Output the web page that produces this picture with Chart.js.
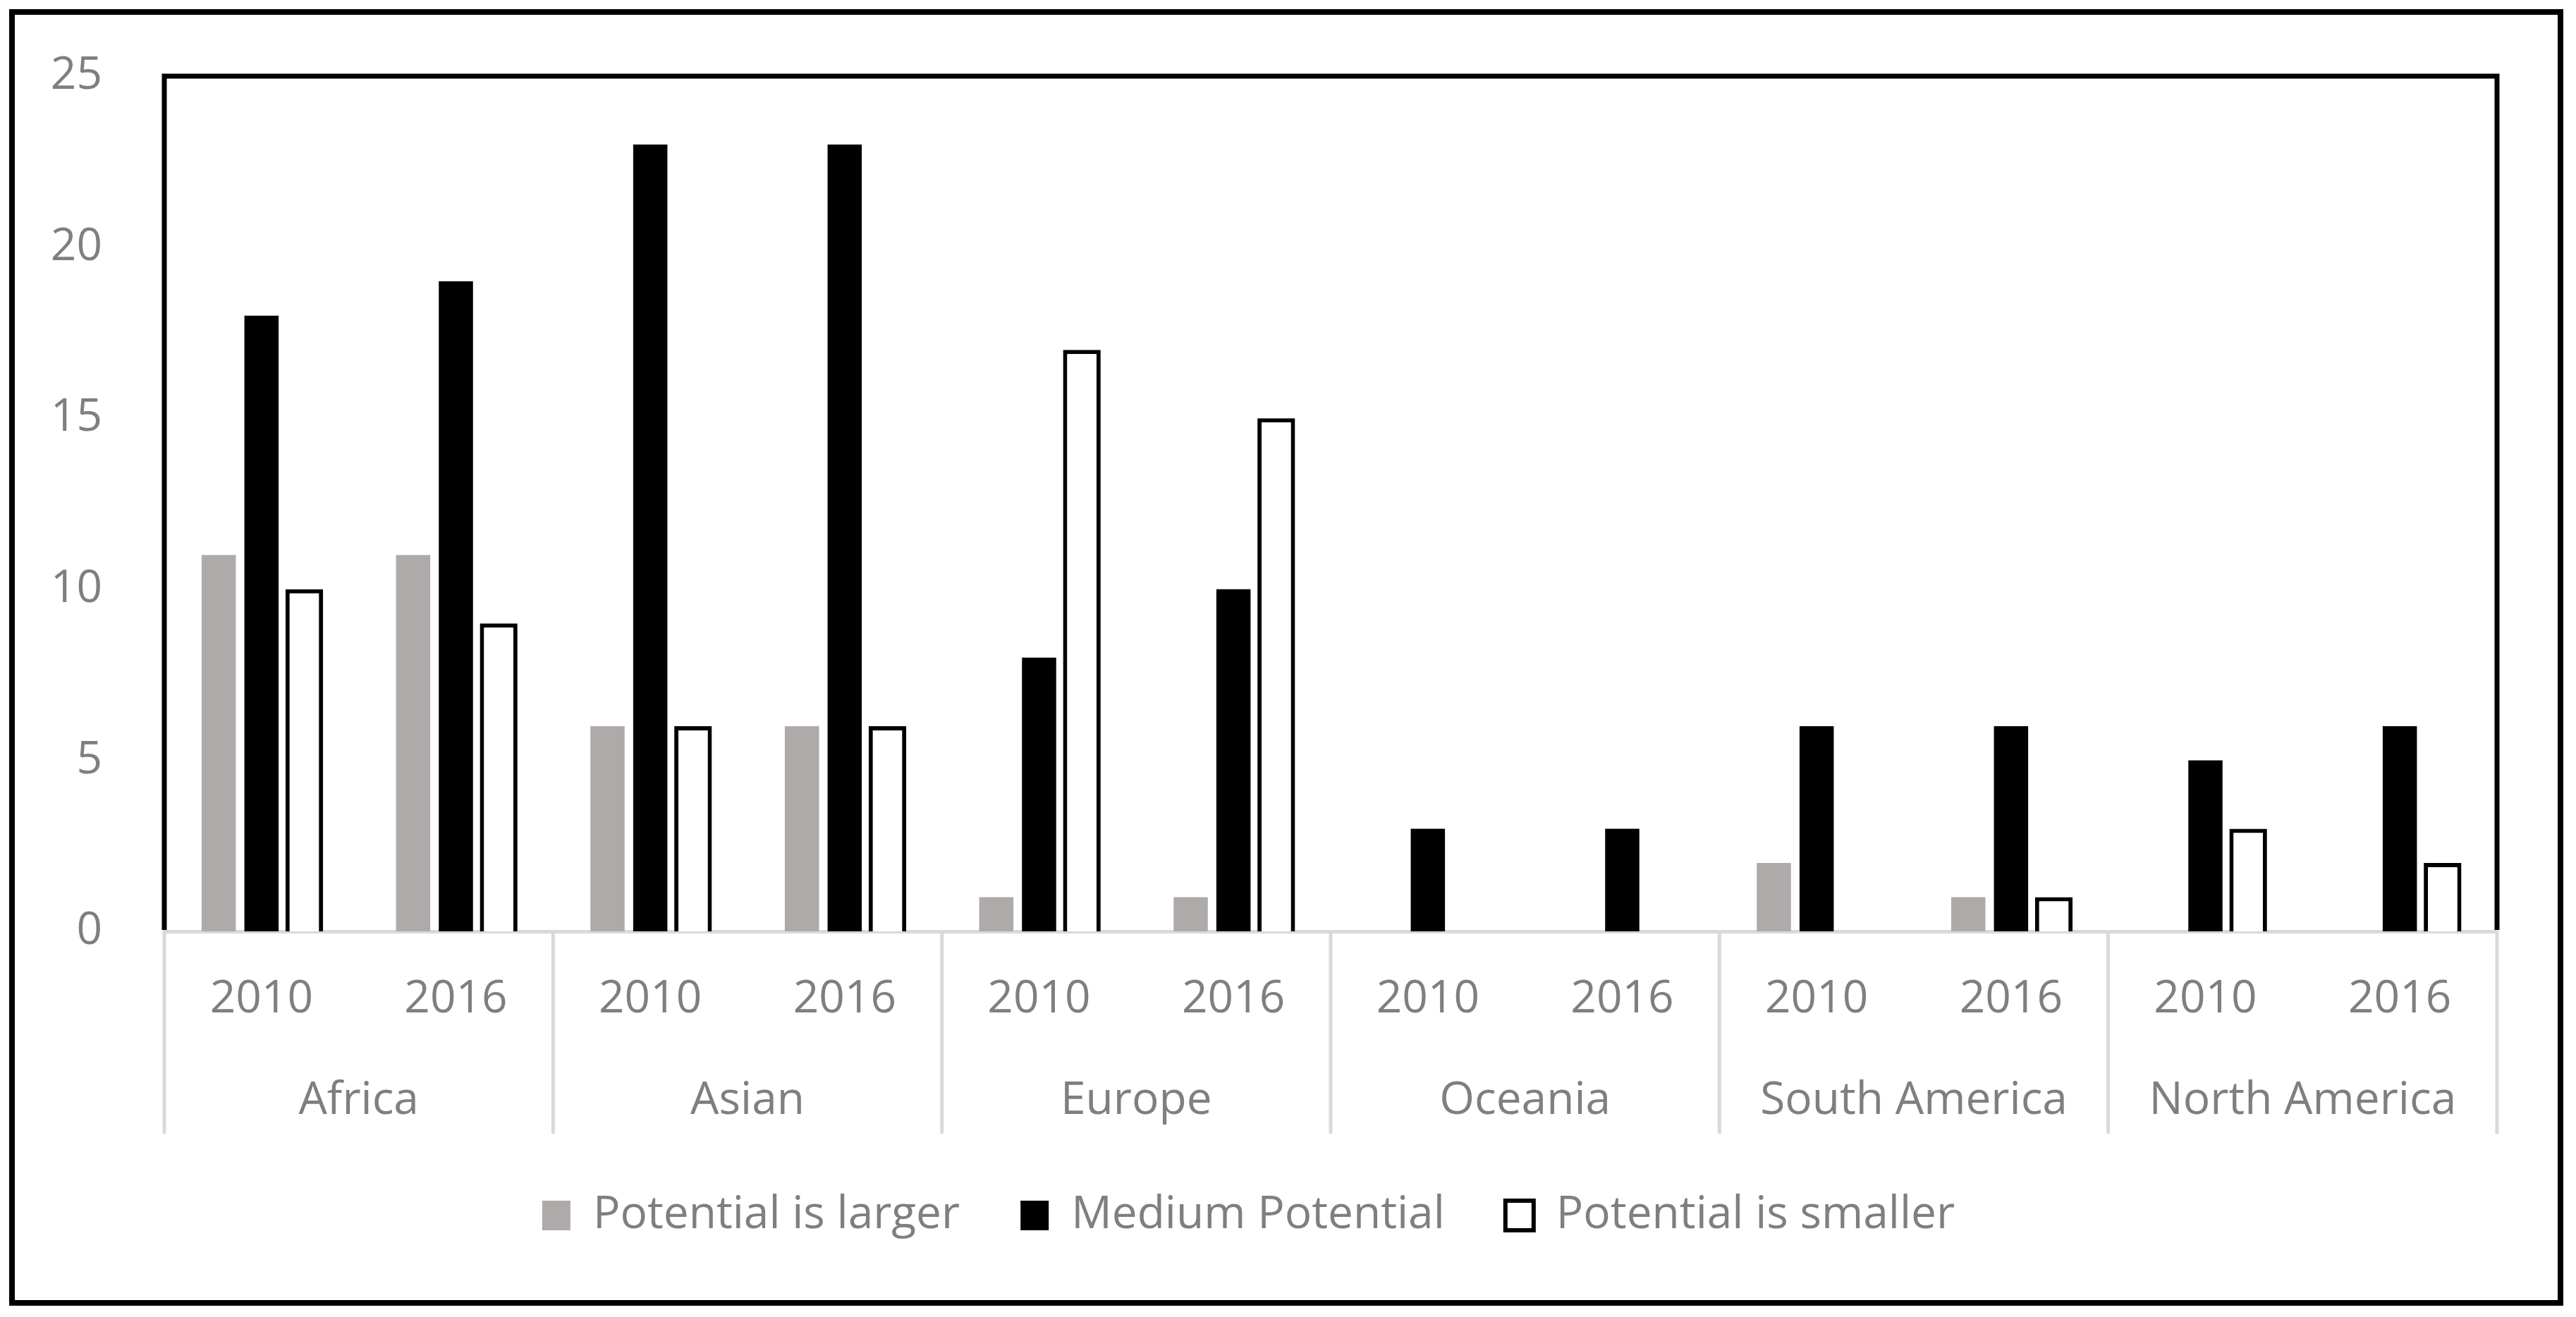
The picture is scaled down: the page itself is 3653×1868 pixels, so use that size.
<!DOCTYPE html>
<html>
<head>
<meta charset="utf-8">
<script src="https://cdn.jsdelivr.net/npm/chart.js@4.4.1/dist/chart.umd.min.js"></script>
<style>
  html, body { margin: 0; padding: 0; background: #fff; }
  #wrap { position: relative; width: 3653px; height: 1868px; }
  #frame {
    position: absolute; left: 13px; top: 13px; width: 3622px; height: 1839px;
    box-sizing: border-box; border: 8px solid #000; pointer-events: none;
  }
</style>
</head>
<body>
<div id="wrap">
  <canvas id="mychart" width="3653" height="1868"></canvas>
  <div id="frame"></div>
</div>
<script>
const regions = ['Africa', 'Asian', 'Europe', 'Oceania', 'South America', 'North America'];
const years = ['2010', '2016'];

// one value per region/year, in the order Africa 2010, Africa 2016, Asian 2010 ...
const larger = [11, 11, 6, 6, 1, 1, 0, 0, 2, 1, 0, 0];
const medium = [18, 19, 23, 23, 8, 10, 3, 3, 6, 6, 5, 6];
const smaller = [10, 9, 6, 6, 17, 15, 0, 0, 0, 1, 3, 2];

const yTicks = [0, 5, 10, 15, 20, 25];

const labels = regions.flatMap(() => years);
const textColor = '#7F7F7F';
const font = { family: 'Open Sans', size: 64 };

// plot frame (black) and category separators (grey)
const framePlugin = {
  id: 'frame',
  afterDraw(chart) {
    const { ctx, chartArea: a } = chart;
    const xs = chart.scales.x;
    ctx.save();
    ctx.strokeStyle = '#D9D9D9';
    ctx.lineWidth = 5;
    for (let i = 0; i <= regions.length; i++) {
      let px;
      if (i === 0) px = a.left;
      else if (i === regions.length) px = a.right;
      else px = (xs.getPixelForValue(2 * i - 1) + xs.getPixelForValue(2 * i)) / 2;
      ctx.beginPath();
      ctx.moveTo(px, a.bottom);
      ctx.lineTo(px, a.bottom + 287);
      ctx.stroke();
    }
    ctx.strokeStyle = '#000';
    ctx.lineWidth = 7;
    ctx.lineJoin = 'miter';
    ctx.beginPath();
    ctx.moveTo(a.left, a.bottom - 2);
    ctx.lineTo(a.left, a.top);
    ctx.lineTo(a.right, a.top);
    ctx.lineTo(a.right, a.bottom - 2);
    ctx.stroke();
    ctx.restore();
  }
};

new Chart(document.getElementById('mychart'), {
  type: 'bar',
  data: {
    labels: labels,
    datasets: [{
      label: 'Potential is larger',
      data: larger,
      backgroundColor: '#AEAAAA',
      borderWidth: 0
    }, {
      label: 'Medium Potential',
      data: medium,
      backgroundColor: '#000000',
      borderWidth: 0
    }, {
      label: 'Potential is smaller',
      data: smaller,
      backgroundColor: '#FFFFFF',
      borderColor: '#000000',
      borderWidth: (c) => (c.raw === 0 ? 0 : 6),
      barPercentage: 0.88
    }]
  },
  options: {
    responsive: false,
    animation: false,
    devicePixelRatio: 1,
    layout: { padding: { top: 108, right: 112, bottom: 102, left: 0 } },
    datasets: { bar: { categoryPercentage: 0.66, barPercentage: 0.8 } },
    plugins: {
      tooltip: { enabled: false },
      title: { display: false },
      legend: {
        position: 'bottom',
        labels: {
          color: textColor,
          font: font,
          boxWidth: 40,
          boxHeight: 42,
          padding: 86
        }
      }
    },
    scales: {
      y: {
        min: 0,
        max: 25,
        afterFit: (s) => { s.width = 233; s.paddingTop = 0; s.paddingBottom = 0; },
        afterBuildTicks: (s) => { s.ticks = yTicks.map(v => ({ value: v })); },
        grid: { display: false, drawTicks: false },
        border: { display: false },
        ticks: { color: textColor, font: font, padding: 88 }
      },
      x: {
        weight: 0,
        afterFit: (s) => { s.height = 140; s.paddingLeft = 0; s.paddingRight = 0; },
        grid: { display: false, drawTicks: false },
        border: { display: true, color: '#D9D9D9', width: 5 },
        ticks: { color: textColor, font: font, padding: 58, maxRotation: 0, autoSkip: false }
      },
      x2: {
        type: 'category',
        position: 'bottom',
        weight: 1,
        labels: regions,
        offset: true,
        afterFit: (s) => { s.height = 145; s.paddingLeft = 0; s.paddingRight = 0; },
        grid: { display: false, drawTicks: false },
        border: { display: false },
        ticks: { color: textColor, font: font, padding: 62, maxRotation: 0, autoSkip: false }
      }
    }
  },
  plugins: [framePlugin]
});
</script>
</body>
</html>
